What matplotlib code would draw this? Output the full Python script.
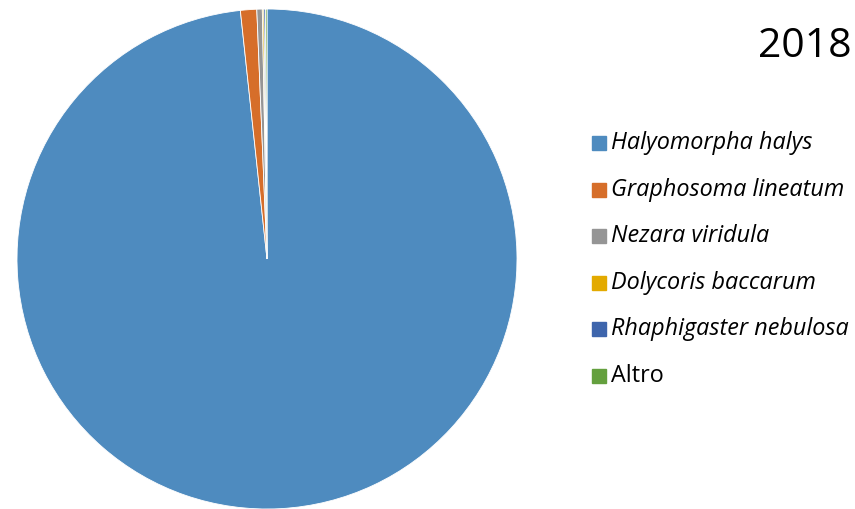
import matplotlib
matplotlib.use("Agg")
import matplotlib.pyplot as plt

species = ["Halyomorpha halys", "Graphosoma lineatum", "Nezara viridula",
           "Dolycoris baccarum", "Rhaphigaster nebulosa", "Altro"]
values = [98.3, 1.05, 0.35, 0.1, 0.1, 0.1]
colors = ["#4E8BBF", "#D66E2A", "#959595", "#E3AA00", "#3E65AC", "#64A03E"]
italic = [True, True, True, True, True, False]
title = "2018"

fig = plt.figure(figsize=(8.55, 5.09), dpi=100)
W, H = 855, 509
cx, cy, r = 267, 259, 250
ax = fig.add_axes([(cx - r) / W, (H - cy - r) / H, 2 * r / W, 2 * r / H])
ax.pie(values, colors=colors, startangle=90, counterclock=False, radius=1,
       wedgeprops=dict(linewidth=0.6, edgecolor="white"))
ax.set_xlim(-1, 1)
ax.set_ylim(-1, 1)
ax.set_aspect("auto")
ax.axis("off")

fig.text(852 / W, 1 - 47 / H, title, fontsize=29.5, ha="right", va="center",
         family="Open Sans")

y0 = 143
dy = 46.6
for i, (s, c, it) in enumerate(zip(species, colors, italic)):
    y = y0 + i * dy
    fig.patches.append(plt.Rectangle((592 / W, 1 - (y + 7) / H), 14 / W, 14 / H,
                                     transform=fig.transFigure, color=c))
    fig.text(611 / W, 1 - y / H, s, fontsize=16.8, ha="left", va="center",
             style="italic" if it else "normal", family="Open Sans")

fig.savefig("out.png", dpi=100)
